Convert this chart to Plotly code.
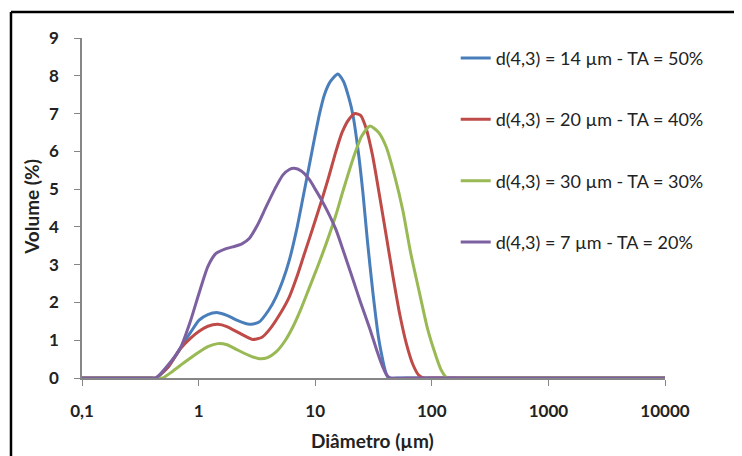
import plotly.graph_objects as go

# ---- data ----
series_names = [
    "d(4,3) = 14 µm - TA = 50%",
    "d(4,3) = 20 µm - TA = 40%",
    "d(4,3) = 30 µm - TA = 30%",
    "d(4,3) = 7 µm - TA = 20%",
]
series_colors = ["#4A7EBB", "#BE4B48", "#98B954", "#7D60A0"]

blue_d = [0.1, 0.2, 0.3, 0.38, 0.43, 0.55, 0.7, 0.85, 1.01, 1.2, 1.46, 1.75, 2.1,
          2.73, 3.3, 4.0, 4.62, 5.3, 6.0, 6.9, 7.83, 8.8, 9.8, 10.9, 12.0, 13.5,
          15.6, 17.5, 19.5, 21.1, 23.5, 25.7, 28.0, 31.3, 35.0, 38.0, 40.0, 42.5,
          50, 100, 300, 1000, 3000, 10000]
blue_v = [0, 0, 0, 0, 0, 0.3, 0.8, 1.2, 1.53, 1.68, 1.73, 1.66, 1.54,
          1.42, 1.48, 1.8, 2.15, 2.6, 3.12, 3.9, 4.75, 5.55, 6.3, 7.0, 7.5, 7.85,
          8.05, 7.85, 7.4, 6.95, 5.95, 4.88, 3.65, 2.24, 1.05, 0.47, 0.18, 0,
          0, 0, 0, 0, 0, 0]

red_d = [0.1, 0.2, 0.3, 0.38, 0.43, 0.55, 0.7, 0.85, 1.01, 1.2, 1.46, 1.75, 2.2,
         2.91, 3.5, 4.05, 5.0, 6.0, 7.0, 8.0, 9.5, 11.3, 13.0, 15.0, 17.0, 19.5,
         22.0, 24.5, 27.4, 31.0, 35.4, 41.0, 46.5, 53.0, 60.5, 69.0, 77.0, 85.0,
         100, 300, 1000, 3000, 10000]
red_v = [0, 0, 0, 0, 0, 0.3, 0.78, 1.05, 1.24, 1.37, 1.42, 1.36, 1.2,
         1.02, 1.08, 1.28, 1.7, 2.15, 2.7, 3.25, 3.95, 4.68, 5.3, 5.98, 6.5, 6.85,
         7.0, 6.95, 6.6, 5.9, 4.88, 3.7, 2.68, 1.7, 0.91, 0.35, 0.08, 0,
         0, 0, 0, 0, 0]

green_d = [0.1, 0.2, 0.3, 0.4, 0.49, 0.6, 0.73, 0.87, 1.01, 1.2, 1.46, 1.75, 2.1,
           2.7, 3.32, 3.9, 4.62, 5.5, 6.43, 7.6, 8.93, 10.5, 12.4, 15.0, 17.3,
           21.1, 25.0, 29.5, 35.0, 40.6, 48.0, 56.4, 66.0, 78.6, 92.0, 108.0,
           120.0, 135.0, 200, 500, 1000, 3000, 10000]
green_v = [0, 0, 0, 0, 0, 0.18, 0.38, 0.55, 0.69, 0.83, 0.91, 0.88, 0.76,
           0.6, 0.51, 0.54, 0.69, 0.98, 1.35, 1.85, 2.4, 2.95, 3.55, 4.3, 4.95,
           5.8, 6.4, 6.67, 6.5, 6.12, 5.35, 4.44, 3.3, 2.24, 1.3, 0.6,
           0.22, 0, 0, 0, 0, 0, 0]

purple_d = [0.1, 0.2, 0.3, 0.38, 0.43, 0.55, 0.7, 0.85, 1.01, 1.2, 1.41, 1.7,
            1.96, 2.35, 2.73, 3.2, 3.79, 4.5, 5.27, 6.0, 6.6, 7.6, 8.93, 10.0,
            11.3, 13.3, 15.1, 17.5, 20.5, 24.5, 29.3, 34.0, 38.0, 41.0, 44.0,
            60, 100, 300, 1000, 3000, 10000]
purple_v = [0, 0, 0, 0, 0, 0.35, 0.8, 1.5, 2.25, 2.95, 3.3, 3.42,
            3.47, 3.55, 3.7, 4.05, 4.53, 5.0, 5.37, 5.52, 5.55, 5.48, 5.25, 5.0,
            4.72, 4.3, 3.92, 3.35, 2.72, 2.0, 1.32, 0.7, 0.29, 0.08, 0,
            0, 0, 0, 0, 0, 0]

series_d = [blue_d, red_d, green_d, purple_d]
series_v = [blue_v, red_v, green_v, purple_v]

x_tickvals = [0.1, 1, 10, 100, 1000, 10000]
x_ticktext = ["0,1", "1", "10", "100", "1000", "10000"]
y_tickvals = list(range(0, 10))

x_title = "Diâmetro (µm)"
y_title = "Volume (%)"

# ---- figure ----
FONT = "Lato"
fig = go.Figure()
for i, (name, col, d, v) in enumerate(zip(series_names, series_colors, series_d, series_v)):
    fig.add_trace(go.Scatter(
        x=d, y=v, name=name, mode="lines",
        line=dict(color=col, width=3, shape="spline", smoothing=0.6),
        legendgroup=f"g{i}",
    ))

axis_col = "#868686"
fig.update_layout(
    width=734, height=448,
    margin=dict(l=74, r=77, t=30, b=78),
    paper_bgcolor="white", plot_bgcolor="white",
    font=dict(family=FONT, color="#222222"),
    showlegend=True,
    legend=dict(
        x=0.641, y=0.995, xanchor="left", yanchor="top",
        font=dict(family=FONT, size=18, color="#222222"),
        traceorder="grouped", tracegroupgap=35,
        bgcolor="rgba(0,0,0,0)",
    ),
    xaxis=dict(
        type="log", range=[-1, 4],
        tickvals=x_tickvals, ticktext=x_ticktext,
        showgrid=False, zeroline=False,
        showline=True, linecolor=axis_col, linewidth=1.5,
        ticks="outside", ticklen=6, tickcolor=axis_col, tickwidth=1.2,
        tickfont=dict(family=FONT, size=17, color="#222222", weight="bold"),
        ticklabelstandoff=11,
    ),
    yaxis=dict(
        range=[0, 9], tickvals=y_tickvals,
        showgrid=False, zeroline=False,
        showline=True, linecolor=axis_col, linewidth=1.5,
        ticks="outside", ticklen=6, tickcolor=axis_col, tickwidth=1.2,
        tickfont=dict(family=FONT, size=17, color="#222222", weight="bold"),
        ticklabelstandoff=12,
    ),
    annotations=[
        dict(text=f"<b>{x_title}</b>", xref="paper", yref="paper",
             x=0.499, y=-0.185, xanchor="center", yanchor="middle",
             showarrow=False, font=dict(family=FONT, size=19, color="#222222")),
        dict(text=f"<b>{y_title}</b>", xref="paper", yref="paper",
             x=-0.086, y=0.503, xanchor="center", yanchor="middle", textangle=-90,
             showarrow=False, font=dict(family=FONT, size=19, color="#222222")),
    ],
    shapes=[
        dict(type="line", xref="paper", yref="paper",
             x0=-0.1218, x1=-0.1218, y0=-0.25, y1=1.0765,
             line=dict(color="black", width=2.5)),
        dict(type="line", xref="paper", yref="paper",
             x0=-0.1218, x1=1.15, y0=1.0765, y1=1.0765,
             line=dict(color="black", width=2.5)),
    ],
)

fig.write_html("out.html")
